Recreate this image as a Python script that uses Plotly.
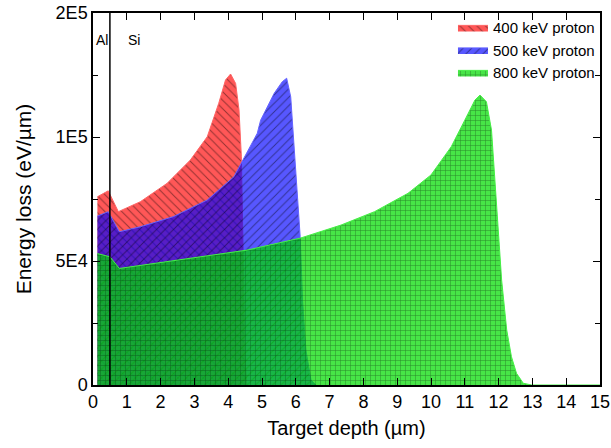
import plotly.graph_objects as go

# Depth (µm) and energy loss (eV/µm)
x400 = [0.13, 0.45, 0.75, 1.40, 2.19, 2.88, 3.38, 3.72, 3.92, 4.07, 4.22, 4.32, 4.39, 4.45, 4.50, 4.55]
y400 = [75900, 78300, 69900, 73900, 81300, 90700, 100100, 113600, 123000, 125400, 121600, 110900, 92000, 50000, 10000, 0]

x500 = [0.13, 0.45, 0.78, 1.40, 2.38, 3.38, 4.17, 4.86, 4.96, 5.36, 5.60, 5.73, 5.85, 5.95, 6.05, 6.13, 6.20, 6.30, 6.45, 6.60]
y500 = [68100, 69900, 61800, 63800, 67900, 74600, 84000, 101500, 106800, 117600, 122300, 123700, 116200, 97500, 77300, 59800, 34000, 14000, 2000, 0]

x800 = [0.13, 0.50, 0.78, 4.56, 6.15, 7.34, 8.33, 9.32, 10.0, 10.6, 11.0, 11.3, 11.45, 11.64, 11.79, 11.89, 11.99, 12.09, 12.24, 12.38, 12.53, 12.73, 12.98, 15.0]
y800 = [53000, 51700, 47000, 54400, 59300, 64500, 69900, 77300, 84700, 96100, 106800, 114900, 116900, 114200, 102800, 82700, 62500, 42300, 22200, 11400, 4700, 700, 0, 0]

names = ["400 keV proton", "500 keV proton", "800 keV proton"]
ytick_vals = [0, 50000, 100000, 150000]
ytick_text = ["0", "5E4", "1E5", "2E5"]
xtick_vals = list(range(0, 16))

FONT = "Arial, Liberation Sans, sans-serif"

fig = go.Figure()
series = [
    (x400, y400, names[0], "rgba(255,0,0,0.66)", "rgb(255,100,100)", "\\", 6, 0.16),
    (x500, y500, names[1], "rgba(0,0,255,0.66)", "rgb(100,100,255)", "/", 6, 0.16),
    (x800, y800, names[2], "rgba(0,220,0,0.72)", "rgb(70,240,70)", "+", 5, 0.18),
]
for xs, ys, nm, fc, lc, shp, sz, sol in series:
    fig.add_trace(go.Scatter(
        x=xs, y=ys, name=nm, mode="lines", fill="tozeroy",
        line=dict(color=lc, width=1),
        fillcolor=fc,
        fillpattern=dict(shape=shp, fgcolor="rgba(0,0,0,0.85)", bgcolor=fc,
                         size=sz, solidity=sol),
    ))

fig.add_shape(type="line", x0=0.5, x1=0.5, xref="x", y0=0, y1=1, yref="paper",
              line=dict(color="black", width=1.5))
fig.add_annotation(x=0.27, y=0.953, xref="x", yref="paper", text="Al", showarrow=False,
                   font=dict(family=FONT, size=14, color="black"))
fig.add_annotation(x=1.2, y=0.953, xref="x", yref="paper", text="Si", showarrow=False,
                   font=dict(family=FONT, size=14, color="black"))

axis_common = dict(showline=True, linecolor="black", linewidth=1.5, mirror="ticks",
                   ticks="inside", ticklen=7, tickwidth=1.2, tickcolor="black",
                   showgrid=False, zeroline=False, automargin=False,
                   tickfont=dict(family=FONT, size=18, color="black"))
fig.update_xaxes(range=[0, 15], tickvals=xtick_vals,
                 title=dict(text="Target depth (µm)", font=dict(family=FONT, size=20, color="black"), standoff=10),
                 **axis_common)
fig.update_yaxes(range=[0, 150000], tickvals=ytick_vals, ticktext=ytick_text,
                 minor=dict(ticks="inside", dtick=25000, tick0=0, ticklen=5, tickcolor="black", tickwidth=1.2),
                 title=dict(text="Energy loss (eV/µm)", font=dict(family=FONT, size=21, color="black"), standoff=18),
                 **axis_common)

fig.update_layout(
    width=611, height=448,
    margin=dict(l=93, r=11, t=13, b=63),
    paper_bgcolor="white", plot_bgcolor="white",
    font=dict(family=FONT, color="black"),
    legend=dict(x=0.71, y=1.005, xanchor="left", yanchor="top",
                bgcolor="rgba(255,255,255,0)", borderwidth=0,
                font=dict(family=FONT, size=15, color="black"),
                tracegroupgap=0, itemwidth=30),
    showlegend=True,
)

fig.write_html("out.html")
